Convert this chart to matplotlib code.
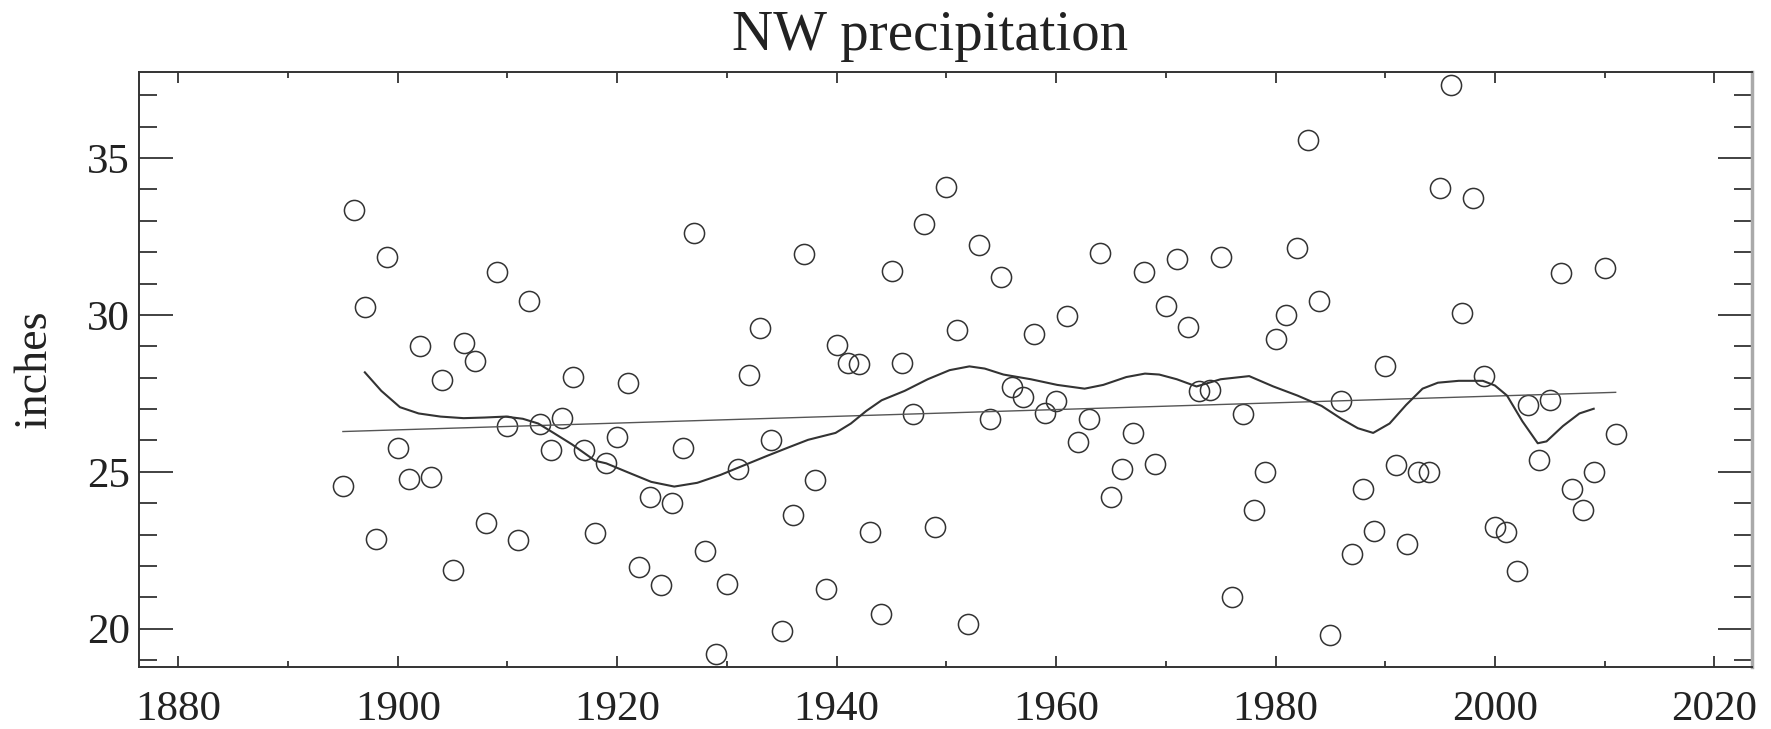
import matplotlib.pyplot as plt
import numpy as np

# Annual NW precipitation (inches), 1895-2011
years = np.arange(1895, 2012)
precip = [
    24.56, 33.34, 30.25, 22.87, 31.85, 25.76, 24.76, 29.02, 24.84, 27.92,  # 1895-1904
    21.86, 29.09, 28.54, 23.36, 31.38, 26.45, 22.82, 30.44, 26.51, 25.71,  # 1905-1914
    26.70, 28.01, 25.68, 23.05, 25.27, 26.12, 27.84, 21.98, 24.21, 21.38,  # 1915-1924
    24.01, 25.76, 32.62, 22.48, 19.19, 21.44, 25.08, 28.08, 29.58, 26.02,  # 1925-1934
    19.93, 23.63, 31.93, 24.74, 21.27, 29.05, 28.48, 28.45, 23.09, 20.46,  # 1935-1944
    31.39, 28.48, 26.83, 32.91, 23.23, 34.08, 29.51, 20.14, 32.22, 26.69,  # 1945-1954
    31.20, 27.71, 27.40, 29.40, 26.86, 27.25, 29.98, 25.94, 26.69, 31.96,  # 1955-1964
    24.21, 25.08, 26.24, 31.38, 25.24, 30.29, 31.79, 29.63, 27.56, 27.62,  # 1965-1974
    31.85, 21.00, 26.83, 23.79, 24.99, 29.22, 30.01, 32.13, 35.58, 30.44,  # 1975-1984
    19.80, 27.25, 22.39, 24.46, 23.11, 28.36, 25.22, 22.69, 24.99, 24.99,  # 1985-1994
    34.05, 37.32, 30.06, 33.72, 28.04, 23.23, 23.08, 21.84, 27.13, 25.39,  # 1995-2004
    27.29, 31.35, 24.46, 23.77, 24.99, 31.48, 26.21,                       # 2005-2011
]

# Smoothed curve
smooth_years = [1897.0, 1898.5, 1900.2, 1901.9, 1903.9, 1906.0, 1907.9, 1909.8, 1911.4,
                1912.8, 1914.2, 1915.9, 1918.0, 1919.0, 1921.0, 1923.1, 1925.2, 1927.3,
                1929.4, 1931.5, 1933.6, 1935.7, 1937.4, 1939.9, 1941.3, 1942.7, 1944.1,
                1946.2, 1948.3, 1950.3, 1952.1, 1953.5, 1955.2, 1957.7, 1960.1, 1962.6,
                1964.3, 1966.4, 1968.1, 1969.4, 1971.0, 1972.8, 1975.0, 1977.6, 1979.8,
                1982.0, 1984.2, 1986.0, 1987.5, 1988.9, 1990.4, 1991.9, 1993.4, 1994.8,
                1996.7, 1998.9, 2000.0, 2001.1, 2002.5, 2003.9, 2004.7, 2006.2, 2007.7,
                2009.0]
smooth_vals = [28.17, 27.58, 27.06, 26.86, 26.76, 26.71, 26.73, 26.76, 26.69,
               26.54, 26.24, 25.87, 25.35, 25.27, 24.98, 24.68, 24.53, 24.65,
               24.90, 25.20, 25.50, 25.79, 26.02, 26.24, 26.54, 26.94, 27.28,
               27.58, 27.95, 28.24, 28.36, 28.29, 28.10, 27.95, 27.77, 27.65,
               27.77, 28.02, 28.13, 28.10, 27.95, 27.72, 27.95, 28.05, 27.72,
               27.43, 27.10, 26.69, 26.39, 26.24, 26.54, 27.13, 27.65, 27.84,
               27.90, 27.90, 27.75, 27.43, 26.61, 25.91, 25.97, 26.46, 26.86,
               27.01]

plt.rcParams['font.family'] = 'serif'
plt.rcParams['font.serif'] = ['Liberation Serif', 'DejaVu Serif']

fig = plt.figure(figsize=(17.71, 7.29), dpi=100)
ax = fig.add_axes([0.0787, 0.0846, 0.9104, 0.8166])

ink = '#333333'

# data points
ax.plot(years, precip, linestyle='none', marker='o', markersize=14.5,
        markerfacecolor='none', markeredgecolor=ink, markeredgewidth=1.1)

# linear trend
coef = np.polyfit(years, precip, 1)
ax.plot(years, np.polyval(coef, years), color='#555555', linewidth=1.0)

# smoothed curve
ax.plot(smooth_years, smooth_vals, color=ink, linewidth=1.5)

ax.set_xlim(1876.45, 2023.4)
ax.set_ylim(18.77, 37.74)
ax.set_xticks(np.arange(1880, 2021, 20))
ax.set_xticks(np.arange(1880, 2021, 10), minor=True)
ax.set_yticks([20, 25, 30, 35])
ax.set_yticks(np.arange(19, 38, 1), minor=True)

ax.tick_params(axis='both', which='both', direction='in', colors=ink,
               labelcolor='#222222', labelsize=31, width=1.3,
               top=True, right=True)
ax.tick_params(axis='x', which='major', length=8, pad=17)
ax.tick_params(axis='x', which='minor', length=4.5)
ax.tick_params(axis='y', which='major', length=24.5, pad=7)
ax.tick_params(axis='y', which='minor', length=13)

for side in ['left', 'top', 'bottom']:
    ax.spines[side].set_color(ink)
    ax.spines[side].set_linewidth(1.4)
ax.spines['right'].set_color('#aaaaaa')
ax.spines['right'].set_linewidth(2.5)

ax.set_ylabel('inches', fontsize=33, color='#222222', labelpad=22)
ax.set_title('NW precipitation', fontsize=41, color='#222222', pad=16, x=0.4904)

plt.savefig('out.png', dpi=100)
